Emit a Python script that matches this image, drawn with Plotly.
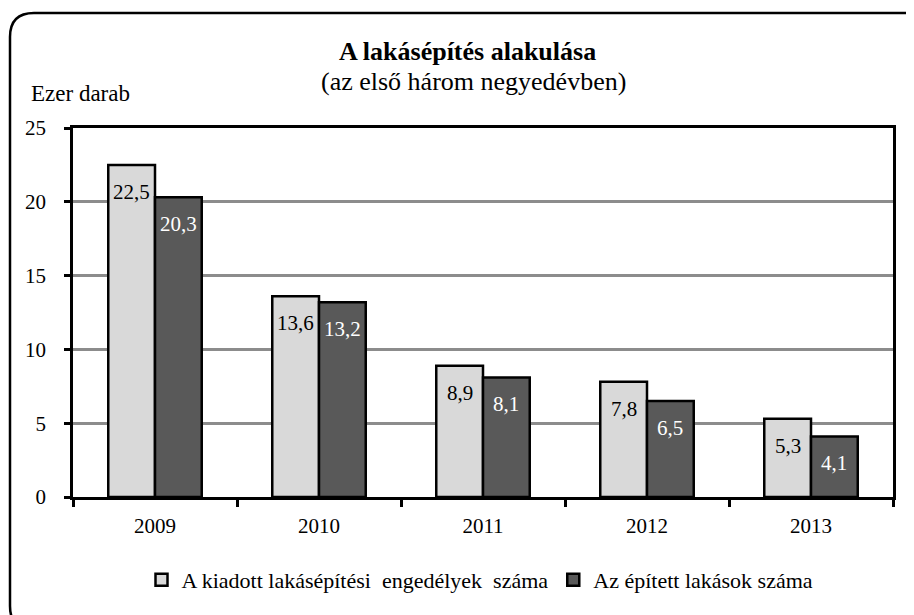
import plotly.graph_objects as go

years = ["2009", "2010", "2011", "2012", "2013"]
permits = [22.5, 13.6, 8.9, 7.8, 5.3]
built = [20.3, 13.2, 8.1, 6.5, 4.1]
name_permits = "A kiadott lakásépítési  engedélyek  száma"
name_built = "Az épített lakások száma"
y_ticks = [0, 5, 10, 15, 20, 25]

FONT = "Liberation Serif"
BARGAP = 0.43

def fmt(v):
    return f"{v:.1f}".replace(".", ",")

fig = go.Figure()
fig.add_trace(go.Bar(
    x=years, y=permits, name=name_permits,
    marker=dict(color="#d9d9d9", line=dict(color="black", width=2.5)),
))
fig.add_trace(go.Bar(
    x=years, y=built, name=name_built,
    marker=dict(color="#595959", line=dict(color="black", width=2.5)),
))

OFF = 8  # page body margin
W, H = 906, 607
L, R, T, B = 73 - OFF, 21, 128 - OFF, 118
pw, ph = W - L - R, H - T - B

def px(x):
    return (x - OFF - L) / pw

def py(y):
    return (H - B - (y - OFF)) / ph

# data labels inside bar tops (category index positions on the category axis)
cat_px = pw / len(years)
half = cat_px * (1 - BARGAP) / 4
labels = []
for series, sign, col in [(permits, -1, "black"), (built, 1, "white")]:
    for i, v in enumerate(series):
        labels.append(dict(x=i, y=v, xref="x", yref="y", text=fmt(v), showarrow=False,
                           xanchor="center", yanchor="top", xshift=sign * half, yshift=-13,
                           font=dict(family=FONT, size=21, color=col)))

# outer rounded frame (page coords)
x0, x1, y0, y1, r = 10, 930, 13, 630, 24
rx, ry = r / pw, r / ph
path = (f"M {px(x0)},{py(y0)-ry} "
        f"Q {px(x0)},{py(y0)} {px(x0)+rx},{py(y0)} "
        f"L {px(x1)-rx},{py(y0)} "
        f"Q {px(x1)},{py(y0)} {px(x1)},{py(y0)-ry} "
        f"L {px(x1)},{py(y1)+ry} "
        f"Q {px(x1)},{py(y1)} {px(x1)-rx},{py(y1)} "
        f"L {px(x0)+rx},{py(y1)} "
        f"Q {px(x0)},{py(y1)} {px(x0)},{py(y1)+ry} Z")

fig.update_layout(
    width=W, height=H,
    margin=dict(l=L, r=R, t=T, b=B),
    paper_bgcolor="white", plot_bgcolor="white",
    font=dict(family=FONT, size=21, color="black"),
    barmode="group", bargap=BARGAP, bargroupgap=0,
    showlegend=True,
    legend=dict(orientation="h", x=px(480), xanchor="center", y=py(580), yanchor="middle",
                font=dict(family=FONT, size=22), itemwidth=30, tracegroupgap=0,
                traceorder="normal"),
    xaxis=dict(type="category", range=[-0.5, len(years) - 0.5], showline=True, linecolor="black",
               linewidth=2.5, mirror=True,
               ticks="outside", tickson="boundaries", ticklen=7, tickwidth=2.5, tickcolor="black",
               tickfont=dict(family=FONT, size=21), showgrid=False, ticklabelstandoff=8),
    yaxis=dict(range=[0, 25], tickvals=y_ticks, showline=True, linecolor="black", linewidth=2.5,
               mirror=True, ticks="outside", ticklen=6, tickwidth=2.5, tickcolor="black",
               showgrid=True, gridcolor="#8c8c8c", gridwidth=2.5, zeroline=False,
               tickfont=dict(family=FONT, size=21), ticklabelstandoff=14),
    shapes=[dict(type="path", xref="paper", yref="paper", path=path,
                 line=dict(color="black", width=2.5), fillcolor="rgba(0,0,0,0)", layer="above")],
    annotations=labels + [
        dict(text="<b>A lakásépítés alakulása</b>", xref="paper", yref="paper",
             x=px(467), y=py(51), xanchor="center", yanchor="middle", showarrow=False,
             font=dict(family=FONT, size=26)),
        dict(text="(az első három negyedévben)", xref="paper", yref="paper",
             x=px(473), y=py(81), xanchor="center", yanchor="middle", showarrow=False,
             font=dict(family=FONT, size=26)),
        dict(text="Ezer darab", xref="paper", yref="paper",
             x=px(29), y=py(93), xanchor="left", yanchor="middle", showarrow=False,
             font=dict(family=FONT, size=23)),
    ],
)

fig.write_html("out.html")
